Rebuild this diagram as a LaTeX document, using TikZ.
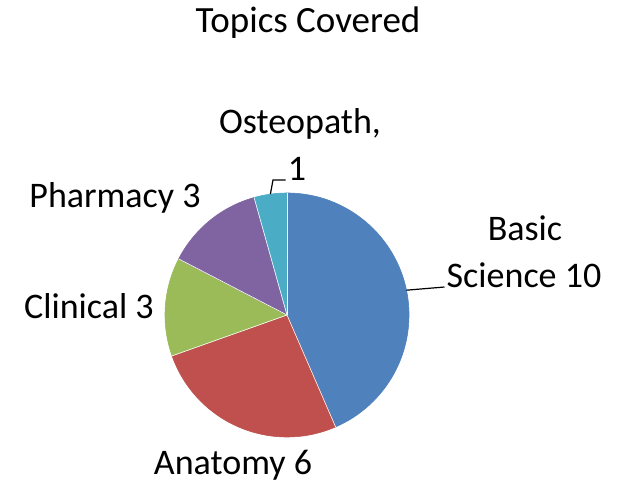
\documentclass[tikz,border=0pt]{standalone}
\usepackage{fontspec}
\setmainfont{Carlito}
\definecolor{sBlue}{HTML}{4F81BD}
\definecolor{sRed}{HTML}{C0504D}
\definecolor{sGreen}{HTML}{9BBB59}
\definecolor{sPurple}{HTML}{8064A2}
\definecolor{sAqua}{HTML}{4BACC6}
\begin{document}
\begin{tikzpicture}[x=1pt,y=-1pt,
  lbl/.style={anchor=base,inner sep=2pt,font=\fontsize{36}{47}\selectfont},
  slice/.style={draw=white,line width=0.6pt,line join=round},
  leader/.style={draw=black,line width=1.2pt}]
\useasboundingbox (0,0) rectangle (621,482);
\fill[white] (0,0) rectangle (621,482);
\begin{scope}[shift={(287,315)},y=1pt]
  \def\R{122}
  \fill[slice,sBlue]   (0,0) -- (90:\R) arc[start angle=90,end angle=-66.52,radius=\R] -- cycle;
  \fill[slice,sRed]    (0,0) -- (-66.52:\R) arc[start angle=-66.52,end angle=-160.43,radius=\R] -- cycle;
  \fill[slice,sGreen]  (0,0) -- (-160.43:\R) arc[start angle=-160.43,end angle=-207.39,radius=\R] -- cycle;
  \fill[slice,sPurple] (0,0) -- (-207.39:\R) arc[start angle=-207.39,end angle=-254.35,radius=\R] -- cycle;
  \fill[slice,sAqua]   (0,0) -- (-254.35:\R) arc[start angle=-254.35,end angle=-270,radius=\R] -- cycle;
  \draw[slice] (0,0) -- (90:\R);
  \draw[slice] (0,0) -- (-66.52:\R);
  \draw[slice] (0,0) -- (-160.43:\R);
  \draw[slice] (0,0) -- (-207.39:\R);
  \draw[slice] (0,0) -- (-254.35:\R);
  \coordinate (ostpt) at (97.83:\R);
  \coordinate (baspt) at (11.74:\R);
\end{scope}
\node[lbl,font=\fontsize{37}{47}\selectfont] (title) at (308,32) {Topics Covered};
\node[lbl] (ost1) at (300,133) {Osteopath,};
\node[lbl] (ost2) at (297,180) {1};
\node[lbl] (pharm) at (115,207) {Pharmacy 3};
\node[lbl] (clin) at (89,318) {Clinical 3};
\node[lbl] (bas1) at (525,240) {Basic};
\node[lbl] (bas2) at (524,287) {Science 10};
\node[lbl] (anat) at (233,474) {Anatomy 6};
\coordinate (ostbend) at (273,180);
\draw[leader] (ost2.base west) -- (ostbend) -- (ostpt);
\draw[leader] (baspt) -- (bas2.base west);
\end{tikzpicture}
\end{document}
